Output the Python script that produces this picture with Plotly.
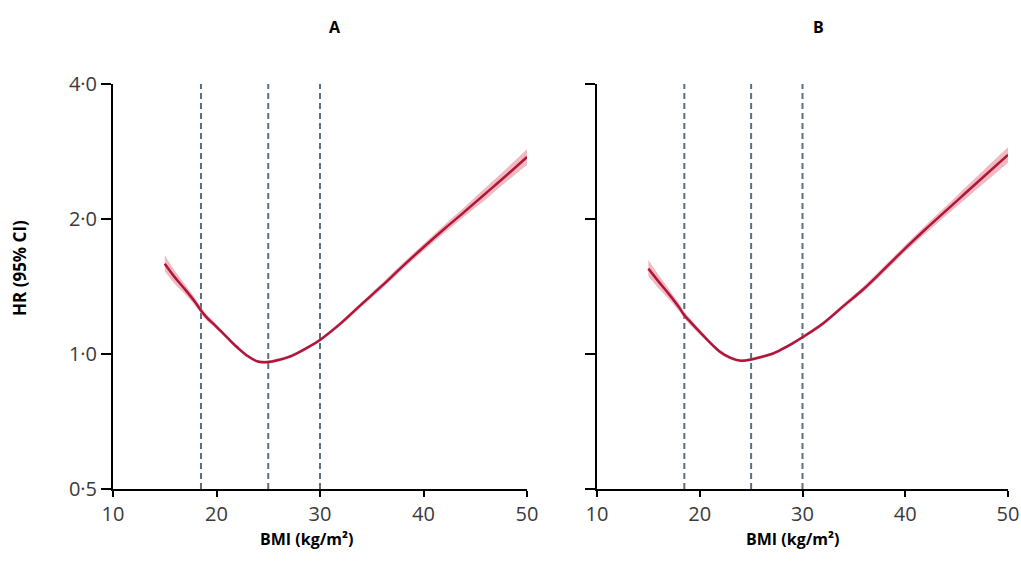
import plotly.graph_objects as go

# ---- data ----
bmi = [15, 16, 17, 18, 18.5, 19, 20, 21, 22, 23, 24, 25, 26, 27, 28, 29, 30,
       32, 34, 36, 38, 40, 42, 44, 46, 48, 50]

hr_a = [1.59, 1.48, 1.39, 1.30, 1.25, 1.21, 1.15, 1.09, 1.035, 0.99, 0.962, 0.960, 0.970,
        0.985, 1.010, 1.040, 1.075, 1.17, 1.29, 1.42, 1.57, 1.73, 1.90, 2.08, 2.28, 2.50, 2.75]
lo_a = [1.53, 1.43, 1.355, 1.275, 1.23, 1.19, 1.135, 1.08, 1.025, 0.982, 0.955, 0.953, 0.962,
        0.977, 1.002, 1.032, 1.066, 1.158, 1.275, 1.40, 1.545, 1.70, 1.86, 2.03, 2.21, 2.42, 2.64]
hi_a = [1.66, 1.53, 1.425, 1.325, 1.27, 1.23, 1.165, 1.10, 1.045, 0.998, 0.970, 0.968, 0.978,
        0.993, 1.018, 1.048, 1.084, 1.182, 1.305, 1.44, 1.595, 1.76, 1.94, 2.13, 2.35, 2.59, 2.86]

hr_b = [1.55, 1.45, 1.36, 1.27, 1.22, 1.185, 1.12, 1.06, 1.01, 0.98, 0.966, 0.972, 0.985,
        1.000, 1.025, 1.055, 1.09, 1.17, 1.28, 1.40, 1.55, 1.72, 1.90, 2.09, 2.30, 2.53, 2.78]
lo_b = [1.49, 1.40, 1.325, 1.245, 1.20, 1.165, 1.105, 1.05, 1.00, 0.972, 0.959, 0.965, 0.977,
        0.992, 1.017, 1.047, 1.081, 1.158, 1.265, 1.38, 1.525, 1.69, 1.86, 2.04, 2.23, 2.44, 2.67]
hi_b = [1.62, 1.50, 1.395, 1.295, 1.24, 1.205, 1.135, 1.07, 1.02, 0.988, 0.973, 0.979, 0.993,
        1.008, 1.033, 1.063, 1.099, 1.182, 1.295, 1.42, 1.575, 1.75, 1.94, 2.14, 2.37, 2.62, 2.89]

cutoffs = [18.5, 25, 30]
panel_titles = ["A", "B"]
x_title = "BMI (kg/m²)"
y_title = "HR (95% CI)"
y_tickvals = [0.5, 1.0, 2.0, 4.0]
y_ticktext = ["0·5", "1·0", "2·0", "4·0"]
x_tickvals = [10, 20, 30, 40, 50]

LINE = "#b0163b"
BAND = "rgba(230,140,150,0.6)"
DASH = "#5b6f7c"

fig = go.Figure()

panels = [(hr_a, lo_a, hi_a, "x", "y"), (hr_b, lo_b, hi_b, "x2", "y2")]
for hr, lo, hi, xa, ya in panels:
    fig.add_trace(go.Scatter(x=bmi, y=lo, mode="lines", line=dict(width=0, color=BAND, shape="spline"),
                             xaxis=xa, yaxis=ya, showlegend=False, hoverinfo="skip"))
    fig.add_trace(go.Scatter(x=bmi, y=hi, mode="lines", line=dict(width=0, color=BAND, shape="spline"),
                             fill="tonexty", fillcolor=BAND,
                             xaxis=xa, yaxis=ya, showlegend=False, hoverinfo="skip"))
    fig.add_trace(go.Scatter(x=bmi, y=hr, mode="lines",
                             line=dict(width=2.5, color=LINE, shape="spline", smoothing=1.0),
                             xaxis=xa, yaxis=ya, showlegend=False))

for xa, ya in [("x", "y"), ("x2", "y2")]:
    for c in cutoffs:
        fig.add_shape(type="line", xref=xa, yref=f"{ya} domain", x0=c, x1=c, y0=0, y1=1,
                      line=dict(color=DASH, width=2, dash="6px,4px"), layer="below")

tick_font = dict(family="Open Sans", size=20, color="#3a3a3a")
ydom = [(572 - 489) / 572, (572 - 84) / 572]

xaxis_common = dict(range=[10, 50], tickvals=x_tickvals, ticks="outside", ticklen=6, tickwidth=2,
                    tickcolor="black", showline=True, linecolor="black", linewidth=2,
                    showgrid=False, zeroline=False, tickfont=tick_font, automargin=False)
yaxis_common = dict(type="log", range=[-0.30103, 0.60206], tickvals=y_tickvals, ticktext=y_ticktext,
                    ticks="outside", ticklen=10, tickwidth=2, tickcolor="black", showline=True,
                    linecolor="black", linewidth=2, showgrid=False, zeroline=False, tickfont=tick_font,
                    domain=ydom, automargin=False)

fig.update_layout(
    width=1021, height=572,
    margin=dict(l=0, r=0, t=0, b=0, autoexpand=False),
    paper_bgcolor="white", plot_bgcolor="white",
    xaxis=dict(domain=[113 / 1021, 527 / 1021], anchor="y", **xaxis_common),
    yaxis=dict(anchor="x", **yaxis_common),
    xaxis2=dict(domain=[597 / 1021, 1008 / 1021], anchor="y2", **xaxis_common),
    yaxis2=dict(anchor="x2", showticklabels=False, **yaxis_common),
)

ann = [
    dict(text=f"<b>{panel_titles[0]}</b>", x=335 / 1021, y=1 - 27 / 572),
    dict(text=f"<b>{panel_titles[1]}</b>", x=818 / 1021, y=1 - 27 / 572),
    dict(text=f"<b>{x_title}</b>", x=306 / 1021, y=1 - 539 / 572),
    dict(text=f"<b>{x_title}</b>", x=792 / 1021, y=1 - 539 / 572),
]
for a in ann:
    fig.add_annotation(xref="paper", yref="paper", showarrow=False, xanchor="center", yanchor="middle",
                       font=dict(family="Open Sans", size=16, color="black"), **a)
fig.add_annotation(xref="paper", yref="paper", showarrow=False, xanchor="center", yanchor="middle",
                   x=19 / 1021, y=1 - 268 / 572, textangle=-90, text=f"<b>{y_title}</b>",
                   font=dict(family="Open Sans", size=17, color="black"))

fig.write_html("out.html")
